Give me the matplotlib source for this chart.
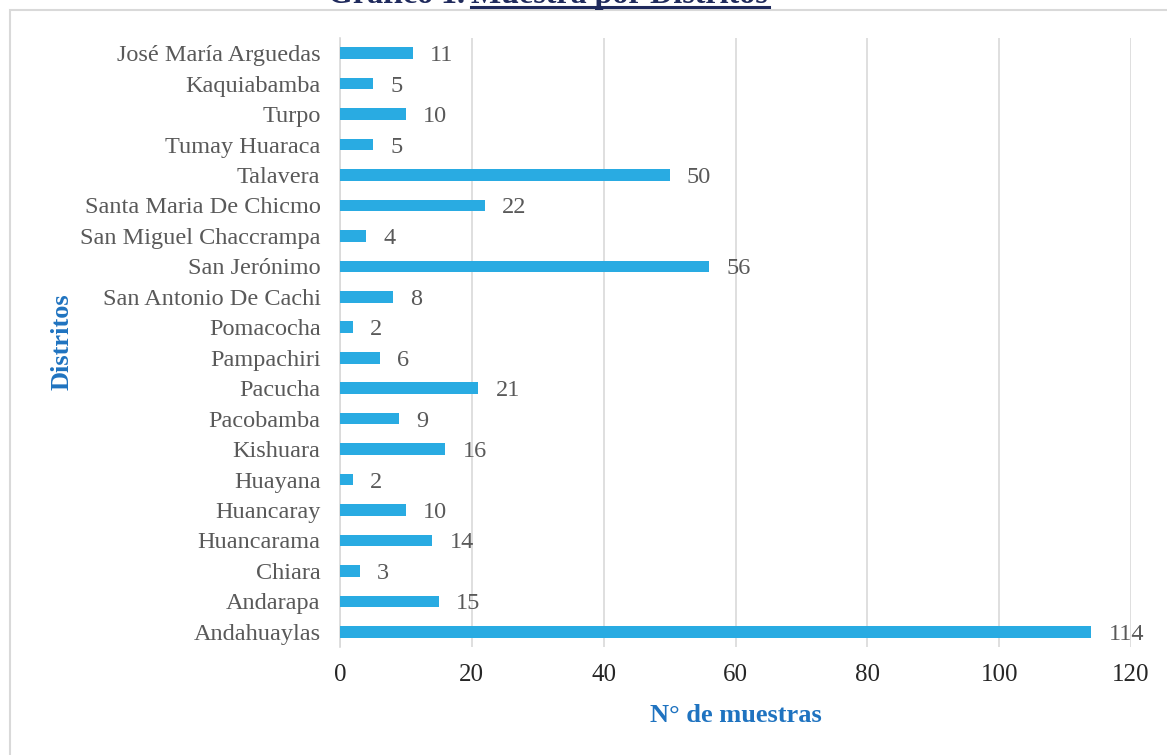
import matplotlib
matplotlib.use("Agg")
import matplotlib.pyplot as plt
from matplotlib.patches import Rectangle
from matplotlib.lines import Line2D

# ------------------------------------------
# Data
# ------------------------------------------

distritos = [
    "Andahuaylas", "Andarapa", "Chiara", "Huancarama", "Huancaray",
    "Huayana", "Kishuara", "Pacobamba", "Pacucha", "Pampachiri",
    "Pomacocha", "San Antonio De Cachi", "San Jerónimo",
    "San Miguel Chaccrampa", "Santa Maria De Chicmo", "Talavera",
    "Tumay Huaraca", "Turpo", "Kaquiabamba", "José María Arguedas",
]
muestras = [114, 15, 3, 14, 10, 2, 16, 9, 21, 6, 2, 8, 56, 4, 22, 50, 5, 10, 5, 11]
x_ticks = [0, 20, 40, 60, 80, 100, 120]

plt.rcParams["font.family"] = ["Liberation Serif", "DejaVu Serif"]

fig = plt.figure(figsize=(11.67, 7.55), dpi=100)

# outer chart frame
fig.patches.append(Rectangle((10 / 1167, -0.01), 1.02, 1 - 10 / 755 + 0.01,
                             transform=fig.transFigure, fill=False,
                             edgecolor="#d9d9d9", linewidth=1.5))

ax = fig.add_axes([340 / 1167, 1 - 647 / 755, (1131 - 340) / 1167, (647 - 38) / 755])

ax.barh(range(len(distritos)), muestras, height=0.38, color="#29abe2", zorder=3)

for i, v in enumerate(muestras):
    ax.text(v + 2.6, i, str(v), va="center_baseline", ha="left",
            fontsize=17.5, color="#595959")

ax.set_xlim(0, 120)
ax.set_ylim(-0.5, len(distritos) - 0.5)
ax.set_xticks(x_ticks)
ax.set_yticks(range(len(distritos)))
ax.set_yticklabels(distritos, fontsize=17.5, color="#595959")
ax.tick_params(axis="x", labelsize=18, labelcolor="#262626", length=0, pad=12)
ax.tick_params(axis="y", length=0, pad=14)

ax.grid(axis="x", color="#d9d9d9", linewidth=1.2, zorder=0)
for s in ["top", "right", "bottom"]:
    ax.spines[s].set_visible(False)
ax.spines["left"].set_color("#d9d9d9")
ax.spines["left"].set_linewidth(1.2)

fig.text(736 / 1167, 1 - 716 / 755, "N° de muestras", ha="center", va="center",
         fontsize=19, fontweight="bold", color="#1f73c0")
fig.text(62 / 1167, 1 - 342 / 755, "Distritos", ha="center", va="center",
         rotation=90, fontsize=19, fontweight="bold", color="#1f73c0")

# title (cut at the top of the image, as in the source)
fig.text(328 / 1167, 1 - 3 / 755, "Gráfico 1.", ha="left", va="baseline",
         fontsize=23, fontweight="bold", color="#1f2a5c")
fig.text(471 / 1167, 1 - 3 / 755, "Muestra por Distritos", ha="left", va="baseline",
         fontsize=23, fontweight="bold", color="#1f2a5c")
fig.lines.append(Line2D([471 / 1167, 769 / 1167], [1 - 6.5 / 755, 1 - 6.5 / 755],
                        transform=fig.transFigure, color="#1f2a5c", linewidth=2.2))

fig.savefig("out.png", dpi=100)
